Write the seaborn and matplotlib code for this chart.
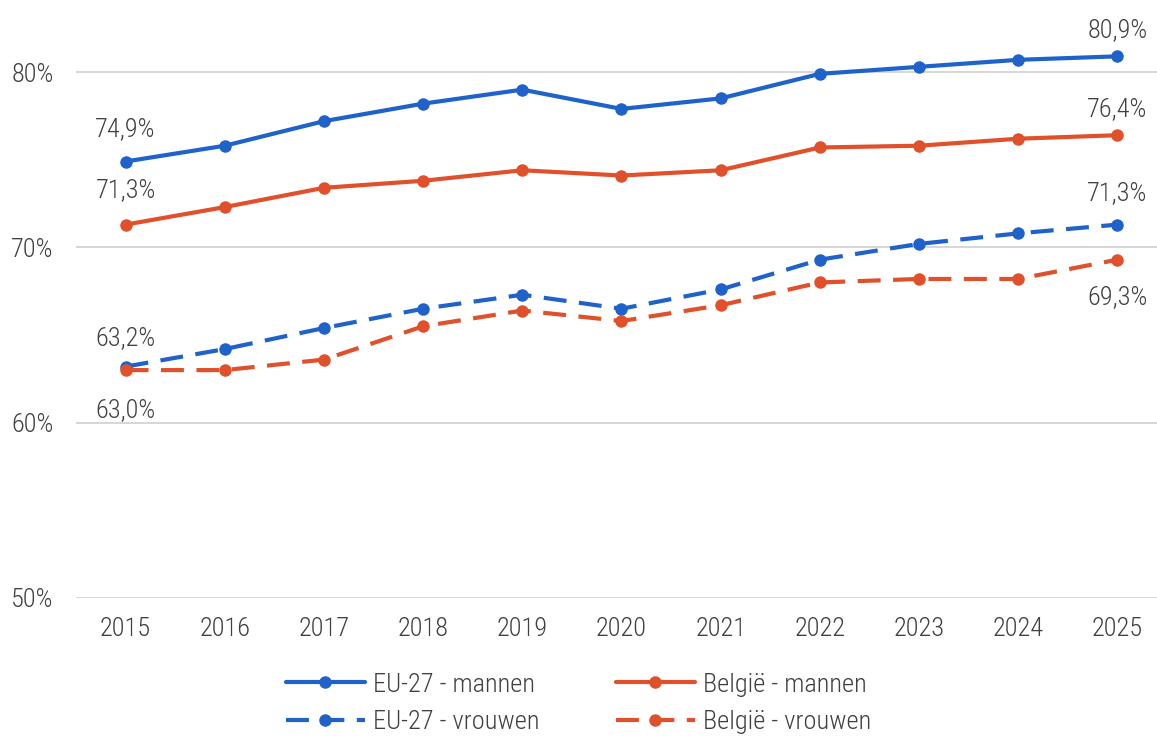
import matplotlib
matplotlib.use("Agg")
import matplotlib.pyplot as plt
import seaborn as sns
import pandas as pd
from matplotlib.lines import Line2D
from matplotlib import font_manager

years = [2015, 2016, 2017, 2018, 2019, 2020, 2021, 2022, 2023, 2024, 2025]
eu_mannen = [74.9, 75.8, 77.2, 78.2, 79.0, 77.9, 78.5, 79.9, 80.3, 80.7, 80.9]
be_mannen = [71.3, 72.3, 73.4, 73.8, 74.4, 74.1, 74.4, 75.7, 75.8, 76.2, 76.4]
eu_vrouwen = [63.2, 64.2, 65.4, 66.5, 67.3, 66.5, 67.6, 69.3, 70.2, 70.8, 71.3]
be_vrouwen = [63.0, 63.0, 63.6, 65.5, 66.4, 65.8, 66.7, 68.0, 68.2, 68.2, 69.3]
series_names = ["EU-27 - mannen", "EU-27 - vrouwen", "België - mannen", "België - vrouwen"]
yticks = [50, 60, 70, 80]

BLUE = "#1f62c9"
ORANGE = "#e0502a"
TXT = "#404040"

sns.set_theme(style="white")
avail = {f.name for f in font_manager.fontManager.ttflist}
cands = [f for f in ["Roboto Condensed", "Liberation Sans Narrow"] if f in avail]
plt.rcParams['font.family'] = cands + ['DejaVu Sans']
plt.rcParams['font.weight'] = 'light'
FS = 19

df = pd.DataFrame({
    "jaar": years * 4,
    "waarde": eu_mannen + eu_vrouwen + be_mannen + be_vrouwen,
    "reeks": sum([[n] * len(years) for n in series_names], []),
})

fig = plt.figure(figsize=(11.57, 7.36), dpi=100)
ax = fig.add_axes([76 / 1157, (736 - 598) / 736, 1 - 76 / 1157, (598 - 20) / 736])

DASH = (0, (5.5, 3))
styles = {
    "EU-27 - mannen": (BLUE, "-"),
    "EU-27 - vrouwen": (BLUE, DASH),
    "België - mannen": (ORANGE, "-"),
    "België - vrouwen": (ORANGE, DASH),
}
for name in series_names:
    c, ls = styles[name]
    sub = df[df["reeks"] == name]
    sns.lineplot(data=sub, x="jaar", y="waarde", ax=ax, color=c, linewidth=3.0,
                 linestyle=ls, marker="o", markersize=9, markeredgewidth=0,
                 legend=False, zorder=3)

ax.set_xlim(2014.5, 2025.4)
ax.set_ylim(50, 50 + 578 / 17.53)
ax.set_yticks(yticks)
ax.set_yticklabels([f"{v}%" for v in yticks])
ax.set_xticks(years)
ax.set_xticklabels([str(y) for y in years])
ax.grid(axis="y", color="#d0d0d0", linewidth=1.2)
ax.grid(axis="x", visible=False)
for s in ax.spines.values():
    s.set_visible(False)
ax.tick_params(axis="both", length=0, labelsize=FS, colors=TXT)
ax.tick_params(axis="y", pad=16)
ax.tick_params(axis="x", pad=14)
ax.set_xlabel("")
ax.set_ylabel("")

def fmt(v):
    return f"{v:.1f}%".replace(".", ",")

lab = dict(fontsize=FS, color=TXT, ha="center")
ax.annotate(fmt(eu_mannen[0]), (years[0], eu_mannen[0]), xytext=(0, 15), textcoords="offset points", va="bottom", **lab)
ax.annotate(fmt(be_mannen[0]), (years[0], be_mannen[0]), xytext=(0, 16), textcoords="offset points", va="bottom", **lab)
ax.annotate(fmt(eu_vrouwen[0]), (years[0], eu_vrouwen[0]), xytext=(0, 12), textcoords="offset points", va="bottom", **lab)
ax.annotate(fmt(be_vrouwen[0]), (years[0], be_vrouwen[0]), xytext=(0, -20), textcoords="offset points", va="top", **lab)
ax.annotate(fmt(eu_mannen[-1]), (years[-1], eu_mannen[-1]), xytext=(0, 10), textcoords="offset points", va="bottom", **lab)
ax.annotate(fmt(be_mannen[-1]), (years[-1], be_mannen[-1]), xytext=(0, 10), textcoords="offset points", va="bottom", **lab)
ax.annotate(fmt(eu_vrouwen[-1]), (years[-1], eu_vrouwen[-1]), xytext=(0, 14), textcoords="offset points", va="bottom", **lab)
ax.annotate(fmt(be_vrouwen[-1]), (years[-1], be_vrouwen[-1]), xytext=(0, -18), textcoords="offset points", va="top", **lab)

handles = [Line2D([], [], color=styles[n][0], linestyle=styles[n][1], linewidth=3.0,
                  marker="o", markersize=9, markeredgewidth=0) for n in series_names]
fig.legend(handles, series_names, loc="upper center", bbox_to_anchor=(0.5, 1 - 662 / 736),
           ncol=2, frameon=False, fontsize=FS, labelcolor=TXT, handlelength=3.0,
           handletextpad=0.3, columnspacing=2.9, labelspacing=0.5, borderaxespad=0)

fig.savefig("out.png", dpi=100)
